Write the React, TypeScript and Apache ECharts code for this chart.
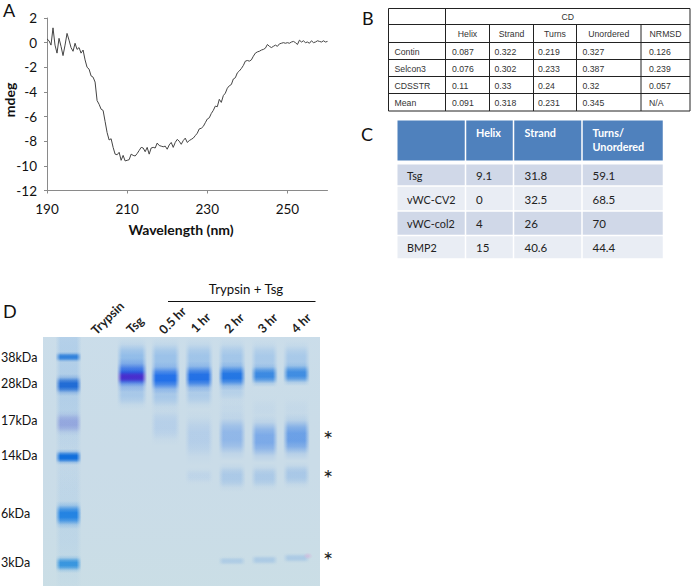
import React, { useEffect, useRef } from "react";
import * as echarts from "echarts";

// Panel A: CD spectrum, one reading every 0.5 nm from 190 nm
const startNm = 190;
const stepNm = 0.5;
const mdeg = [
  0.3, 0.15, -0.2, 1.2, -0.2, -0.85, 0.35, -0.3, -1.05, -0.2, 0.75, 0.2, -0.4, -0.7, -0.05, -0.55, -0.4, -0.85, -0.6, -1.4,
  -2.0, -2.15, -2.7, -2.8, -3.2, -4.7, -5.0, -5.4, -5.5, -6.4, -7.3, -7.9, -7.8, -8.5, -9.05, -9.1, -8.9, -9.55, -9.15, -9.6,
  -9.55, -9.5, -9.05, -9.15, -9.2, -9.0, -8.75, -8.5, -8.55, -8.85, -8.5, -9.05, -8.55, -8.5, -8.55, -8.15, -8.35, -8.4, -8.45, -8.4,
  -8.65, -8.3, -8.1, -8.5, -8.1, -7.85, -8.0, -8.25, -7.95, -7.75, -8.1, -7.95, -7.85, -7.75, -7.55, -7.35, -7.0, -6.95, -6.8, -6.5,
  -6.2, -6.1, -5.75, -5.5, -5.15, -5.2, -4.6, -4.85, -4.3, -4.1, -3.7, -3.5, -3.4, -2.95, -2.85, -2.45, -2.3, -2.1, -1.85, -1.5,
  -1.45, -1.5, -1.4, -1.1, -0.85, -0.75, -0.7, -0.6, -0.55, -0.45, -0.15, -0.3, -0.4, -0.3, -0.2, -0.3, -0.1, -0.05, 0, -0.05,
  0, -0.05, 0.05, 0.1, 0, -0.15, 0.2, 0.05, 0.15, 0, 0.05, -0.05, 0.15, 0, 0.05, 0.15, 0.1, 0.05, 0.15, 0.05, 0.1,
];
const xTicks = [190, 210, 230, 250];

// Panel B
const tableBHeader = ["Helix", "Strand", "Turns", "Unordered", "NRMSD"];
const tableBRows = [
  ["Contin", "0.087", "0.322", "0.219", "0.327", "0.126"],
  ["Selcon3", "0.076", "0.302", "0.233", "0.387", "0.239"],
  ["CDSSTR", "0.11", "0.33", "0.24", "0.32", "0.057"],
  ["Mean", "0.091", "0.318", "0.231", "0.345", "N/A"],
];

// Panel C
const tableCHeader = ["", "Helix", "Strand", "Turns/\nUnordered"];
const tableCRows = [
  ["Tsg", "9.1", "31.8", "59.1"],
  ["vWC-CV2", "0", "32.5", "68.5"],
  ["vWC-col2", "4", "26", "70"],
  ["BMP2", "15", "40.6", "44.4"],
];

// Panel D
const ladderLabels = ["38kDa", "28kDa", "17kDa", "14kDa", "6kDa", "3kDa"];
const laneLabels = ["Trypsin", "Tsg", "0.5 hr", "1 hr", "2 hr", "3 hr", "4 hr"];
const groupLabel = "Trypsin + Tsg";
// lanes that carry protein: ladder, Tsg, 0.5 hr, 1 hr, 2 hr, 3 hr, 4 hr
const lanePositions = [0, 1.936, 2.957, 3.979, 4.985, 5.976, 6.951];
const laneWidths = [0.8, 0.92, 0.89, 0.86, 0.84, 0.82, 0.82];
// [lane index, migration, migration spread, colour, opacity]
const gelBands: [number, number, number, string, number][] = [
  // ladder lane smear
  [0, 30, 260, "#6fa8e6", 0.32],
  [0, 190, 190, "#7db2e6", 0.2],
  // ladder
  [0, 20, 11, "#1570d8", 1],
  [0, 48, 22, "#0a5cd2", 1],
  [0, 86, 26, "#8a9cdc", 0.85],
  [0, 120, 16, "#0f6edc", 1],
  [0, 178, 28, "#0c76e2", 1],
  [0, 227, 18, "#0a7ede", 1],
  // Tsg
  [1, 22, 42, "#5a9ce8", 0.6],
  [1, 56, 34, "#6fa6e8", 0.42],
  [1, 38, 34, "#0c50e2", 1],
  [1, 40, 14, "#3a08c4", 0.85],
  // 0.5 hr
  [2, 22, 42, "#5a9ce8", 0.5],
  [2, 57, 36, "#6fa6e8", 0.42],
  [2, 41, 32, "#0a60e8", 1],
  [2, 88, 42, "#8fb6ea", 0.35],
  // 1 hr
  [3, 22, 42, "#5a9ce8", 0.45],
  [3, 56, 34, "#6fa6e8", 0.35],
  [3, 40, 31, "#0a60e4", 1],
  [3, 100, 56, "#8fb6ea", 0.38],
  [3, 139, 18, "#8fb6ea", 0.2],
  // 2 hr
  [4, 22, 42, "#5a9ce8", 0.42],
  [4, 53, 28, "#6fa6e8", 0.25],
  [4, 39, 29, "#0a66e2", 1],
  [4, 72, 26, "#8fb6ea", 0.12],
  [4, 99, 50, "#6a9ee8", 0.62],
  [4, 140, 30, "#7faee6", 0.42],
  [4, 224, 10, "#8ab4e4", 0.55],
  // 3 hr
  [5, 22, 40, "#5a9ce8", 0.36],
  [5, 38, 24, "#257ce0", 1],
  [5, 72, 26, "#8fb6ea", 0.1],
  [5, 102, 48, "#5a94e8", 0.72],
  [5, 140, 28, "#7faee6", 0.42],
  [5, 223, 11, "#8ab4e4", 0.6],
  // 4 hr
  [6, 22, 38, "#5a9ce8", 0.36],
  [6, 37, 24, "#2a80e0", 1],
  [6, 72, 26, "#8fb6ea", 0.1],
  [6, 100, 48, "#4f8ee6", 0.8],
  [6, 138, 28, "#7faee6", 0.45],
  [6, 221, 11, "#8ab4e4", 0.6],
];
// [lane, migration, lane spread, migration spread, colour, opacity]
const gelSpots: [number, number, number, number, string, number][] = [
  [7.3, 219, 0.3, 7, "#d8a8d8", 0.7],
];

const GEL_BG = "#cadce8";
const LATO = "Lato, 'Open Sans', sans-serif";
const ARIAL = "'Liberation Sans', Arial, sans-serif";

function text(
  x: number,
  y: number,
  t: string,
  font: string,
  fill = "#111",
  align = "left",
  rotation = 0,
) {
  return {
    type: "text",
    x,
    y,
    rotation,
    z: 10,
    style: { text: t, font, fill, align, verticalAlign: "middle" },
  };
}

function hexAlpha(hex: string, a: number) {
  const r = parseInt(hex.slice(1, 3), 16);
  const g = parseInt(hex.slice(3, 5), 16);
  const b = parseInt(hex.slice(5, 7), 16);
  return `rgba(${r},${g},${b},${a})`;
}

function tableB() {
  const xs = [388.5, 445.5, 489.5, 533.5, 576.5, 641, 690];
  const ys = [8.5, 24.5, 42.5, 59.5, 76.5, 93.5, 111];
  const els: any[] = [];
  const line = (x1: number, y1: number, x2: number, y2: number) => ({
    type: "line",
    z: 10,
    shape: { x1, y1, x2, y2 },
    style: { stroke: "#222", lineWidth: 1 },
  });
  ys.forEach((y) => els.push(line(xs[0], y, xs[6], y)));
  xs.forEach((x, i) => {
    if (i === 0 || i === 1 || i === 6) els.push(line(x, ys[0], x, ys[6]));
    else els.push(line(x, ys[1], x, ys[6]));
  });
  const font = `8.7px ${ARIAL}`;
  els.push(text((xs[1] + xs[6]) / 2, 16.5, "CD", font, "#333", "center"));
  tableBHeader.forEach((h, i) =>
    els.push(text((xs[i + 1] + xs[i + 2]) / 2, 33.5, h, font, "#333", "center")),
  );
  const textX = [394.5, 452, 494.5, 538, 582.5, 649];
  tableBRows.forEach((row, r) =>
    row.forEach((c, i) => els.push(text(textX[i], (ys[r + 2] + ys[r + 3]) / 2 + 0.5, c, font, "#333"))),
  );
  return els;
}

function tableC() {
  const xs = [397.5, 465.5, 513.5, 582, 663.5];
  const rowY = [164.5, 186, 211, 235.5, 259];
  const gap = 0.75;
  const els: any[] = [];
  for (let i = 0; i < 4; i++) {
    els.push({
      type: "rect",
      z: 5,
      shape: { x: xs[i] + (i ? gap : 0), y: 120.5, width: xs[i + 1] - xs[i] - (i ? gap : 0) - gap, height: 40 },
      style: { fill: "#4f81bd" },
    });
    for (let r = 0; r < 4; r++) {
      els.push({
        type: "rect",
        z: 5,
        shape: {
          x: xs[i] + (i ? gap : 0),
          y: rowY[r] + (r ? gap : 0),
          width: xs[i + 1] - xs[i] - (i ? gap : 0) - gap,
          height: rowY[r + 1] - rowY[r] - (r ? gap : 0) - gap,
        },
        style: { fill: r % 2 === 0 ? "#d0d8e8" : "#e9edf4" },
      });
    }
  }
  const textX = [407, 476, 524.5, 592.5];
  const hFont = `bold 10.8px ${LATO}`;
  tableCHeader.forEach((h, i) => {
    h.split("\n").forEach((part, j) => {
      if (part) els.push(text(textX[i], 132.5 + j * 14, part, hFont, "#fff"));
    });
  });
  tableCRows.forEach((row, r) =>
    row.forEach((c, i) =>
      els.push(
        text(textX[i], (rowY[r] + rowY[r + 1]) / 2 + 0.5, c, `${i === 0 ? 10.8 : 11.5}px ${LATO}`, "#222"),
      ),
    ),
  );
  return els;
}

function panelD() {
  const els: any[] = [];
  els.push({
    type: "rect",
    z: 0,
    shape: { x: 43, y: 337, width: 277, height: 249 },
    style: { fill: GEL_BG },
  });
  els.push({
    type: "rect",
    z: 3,
    shape: { x: 43, y: 337, width: 277, height: 249 },
    style: {
      fill: new echarts.graphic.LinearGradient(0, 0, 0, 1, [
        { offset: 0, color: "rgba(205,225,240,0.2)" },
        { offset: 0.5, color: "rgba(200,222,228,0)" },
        { offset: 1, color: "rgba(203,226,224,0.3)" },
      ]),
    },
  });
  const ladderY = [357, 383, 420, 455, 513, 562];
  ladderLabels.forEach((l, i) => els.push(text(1, ladderY[i], l, `12.5px ${LATO}`)));
  const laneC = [
    [107.5, 318],
    [135, 325],
    [172.5, 320.5],
    [200.5, 322.5],
    [234, 323],
    [267.5, 323],
    [301, 323],
  ];
  laneLabels.forEach((l, i) =>
    els.push(text(laneC[i][0], laneC[i][1], l, `bold 12.5px ${LATO}`, "#222", "center", Math.PI / 4)),
  );
  els.push(text(246, 289, groupLabel, `13.2px ${LATO}`, "#111", "center"));
  els.push({
    type: "line",
    z: 10,
    shape: { x1: 168, y1: 301.5, x2: 315.5, y2: 301.5 },
    style: { stroke: "#111", lineWidth: 1 },
  });
  [438, 477, 559].forEach((y) => els.push(text(328, y, "*", `24px ${LATO}`, "#222", "center")));
  return els;
}

// The stretches between lanes, covered with gel colour so that each band fades out sideways.
const GEL_MIN_LANE = -0.777;
const GEL_MAX_LANE = 7.668;
const gutters: [number, number][] = (() => {
  const out: [number, number][] = [];
  const left = lanePositions.map((p, i) => p - laneWidths[i] / 2);
  const right = lanePositions.map((p, i) => p + laneWidths[i] / 2);
  out.push([GEL_MIN_LANE, left[0]]);
  for (let i = 0; i < left.length - 1; i++) out.push([right[i], left[i + 1]]);
  out.push([right[right.length - 1], GEL_MAX_LANE]);
  return out;
})();

const RAMP_PX = 5;

const option: any = {
  animation: false,
  backgroundColor: "#fff",
  grid: [
    { left: 47, top: 18, width: 280.5, height: 172.5 },
    { left: 43, top: 337, width: 277, height: 249 },
  ],
  xAxis: [
    {
      type: "value",
      gridIndex: 0,
      min: 190,
      max: 260,
      interval: 10,
      splitLine: { show: false },
      axisLine: { onZero: false, lineStyle: { color: "#8a8a8a", width: 1 } },
      axisTick: { show: true, length: 3, customValues: xTicks, lineStyle: { color: "#8a8a8a" } },
      axisLabel: {
        customValues: xTicks,
        margin: 11,
        fontFamily: LATO,
        fontSize: 13.5,
        color: "#111",
      },
    },
    { type: "value", gridIndex: 1, show: false, min: GEL_MIN_LANE, max: GEL_MAX_LANE },
  ],
  yAxis: [
    {
      type: "value",
      gridIndex: 0,
      min: -12,
      max: 2,
      interval: 2,
      splitLine: { show: false },
      axisLine: { show: true, onZero: false, lineStyle: { color: "#8a8a8a", width: 1 } },
      axisTick: { show: true, length: 3, lineStyle: { color: "#8a8a8a" } },
      axisLabel: { margin: 10, fontFamily: LATO, fontSize: 13.5, color: "#111" },
    },
    { type: "value", gridIndex: 1, show: false, min: 0, max: 249, inverse: true },
  ],
  series: [
    {
      type: "line",
      xAxisIndex: 0,
      yAxisIndex: 0,
      data: mdeg.map((v, i) => [startNm + i * stepNm, v]),
      symbol: "none",
      lineStyle: { color: "#444", width: 1 },
    },
    {
      type: "custom",
      xAxisIndex: 1,
      yAxisIndex: 1,
      coordinateSystem: "cartesian2d",
      clip: true,
      data: gelBands.map((b) => [lanePositions[b[0]], b[1]]),
      renderItem: (params: any, api: any) => {
        const b = gelBands[params.dataIndex];
        const c = api.coord([lanePositions[b[0]], b[1]]);
        const s = api.size([laneWidths[b[0]], b[2]]);
        const col = b[3];
        const a = b[4];
        const fill = new echarts.graphic.LinearGradient(0, 0, 0, 1, [
          { offset: 0, color: hexAlpha(col, 0) },
          { offset: 0.15, color: hexAlpha(col, a * 0.2) },
          { offset: 0.3, color: hexAlpha(col, a * 0.75) },
          { offset: 0.42, color: hexAlpha(col, a) },
          { offset: 0.58, color: hexAlpha(col, a) },
          { offset: 0.7, color: hexAlpha(col, a * 0.75) },
          { offset: 0.85, color: hexAlpha(col, a * 0.2) },
          { offset: 1, color: hexAlpha(col, 0) },
        ]);
        return {
          type: "rect",
          shape: { x: c[0] - s[0] / 2, y: c[1] - s[1] / 2, width: s[0], height: s[1] },
          style: { fill },
        };
      },
    },
    {
      type: "custom",
      xAxisIndex: 1,
      yAxisIndex: 1,
      coordinateSystem: "cartesian2d",
      clip: true,
      data: gutters,
      renderItem: (params: any, api: any) => {
        const g = gutters[params.dataIndex];
        const a = api.coord([g[0], 0]);
        const b = api.coord([g[1], 249]);
        const x0 = a[0] - RAMP_PX;
        const w = b[0] - a[0] + 2 * RAMP_PX;
        const r = Math.min(0.49, RAMP_PX / w);
        const fill = new echarts.graphic.LinearGradient(0, 0, 1, 0, [
          { offset: 0, color: hexAlpha(GEL_BG, 0) },
          { offset: r, color: hexAlpha(GEL_BG, 1) },
          { offset: 1 - r, color: hexAlpha(GEL_BG, 1) },
          { offset: 1, color: hexAlpha(GEL_BG, 0) },
        ]);
        return {
          type: "rect",
          shape: { x: x0, y: a[1], width: w, height: b[1] - a[1] },
          style: { fill },
        };
      },
    },
    {
      type: "custom",
      xAxisIndex: 1,
      yAxisIndex: 1,
      coordinateSystem: "cartesian2d",
      clip: true,
      data: gelSpots.map((s) => [s[0], s[1]]),
      renderItem: (params: any, api: any) => {
        const b = gelSpots[params.dataIndex];
        const c = api.coord([b[0], b[1]]);
        const s = api.size([b[2], b[3]]);
        const fill = new echarts.graphic.RadialGradient(0.5, 0.5, 0.5, [
          { offset: 0, color: hexAlpha(b[4], b[5]) },
          { offset: 1, color: hexAlpha(b[4], 0) },
        ]);
        return {
          type: "ellipse",
          shape: { cx: c[0], cy: c[1], rx: s[0] / 2, ry: s[1] / 2 },
          style: { fill },
        };
      },
    },
  ],
  graphic: {
    elements: [
      text(3, 10, "A", `18px ${LATO}`),
      text(362, 18, "B", `18px ${LATO}`),
      text(361, 134, "C", `18px ${LATO}`),
      text(3, 311, "D", `18px ${LATO}`),
      text(181, 229, "Wavelength (nm)", `bold 14px ${LATO}`, "#111", "center"),
      text(9.5, 100, "mdeg", `bold 14px ${LATO}`, "#111", "center", Math.PI / 2),
      ...tableB(),
      ...tableC(),
      ...panelD(),
    ],
  },
};

export default function App() {
  const ref = useRef<HTMLDivElement>(null);
  useEffect(() => {
    document.body.style.margin = "0";
    const chart = echarts.init(ref.current!, null, { renderer: "svg" });
    chart.setOption(option);
    return () => chart.dispose();
  }, []);
  return <div ref={ref} style={{ width: 693, height: 586 }} />;
}
